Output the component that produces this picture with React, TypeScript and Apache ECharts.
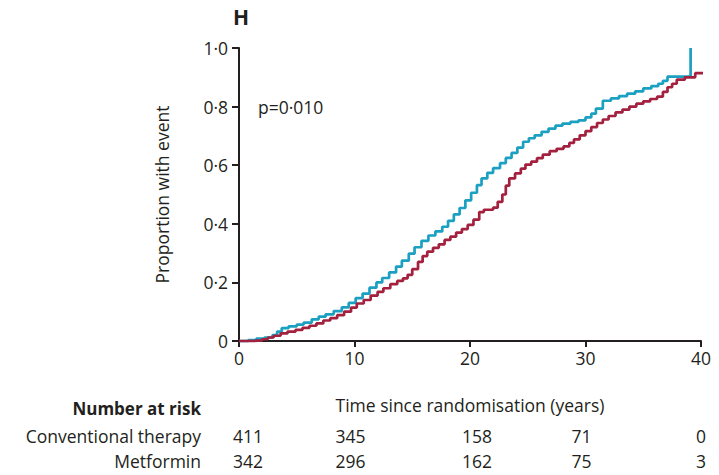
import React, { useEffect, useRef } from "react";
import * as echarts from "echarts";

// Kaplan–Meier cumulative incidence, [years, proportion with event]
const conventionalTherapy: [number, number][] = [
  [0, 0], [0.8, 0.003], [1.5, 0.008], [2.2, 0.012], [2.9, 0.02], [3.3, 0.032], [3.7, 0.044],
  [4.3, 0.05], [5.0, 0.056], [5.6, 0.063], [6.3, 0.074], [6.9, 0.083], [7.5, 0.091],
  [8.2, 0.102], [8.9, 0.115], [9.5, 0.13], [10.1, 0.146], [10.7, 0.162], [11.3, 0.182],
  [11.9, 0.2], [12.4, 0.215], [13.0, 0.234], [13.6, 0.254], [14.1, 0.274], [14.7, 0.298],
  [15.2, 0.32], [15.8, 0.342], [16.4, 0.36], [17.0, 0.374], [17.6, 0.39], [18.1, 0.41],
  [18.6, 0.432], [19.1, 0.454], [19.6, 0.48], [20.1, 0.506], [20.6, 0.532], [21.0, 0.555],
  [21.5, 0.574], [22.0, 0.59], [22.6, 0.607], [23.1, 0.625], [23.6, 0.642], [24.1, 0.66],
  [24.6, 0.68], [25.1, 0.692], [25.6, 0.702], [26.2, 0.714], [26.8, 0.725], [27.4, 0.735],
  [28.0, 0.742], [28.7, 0.748], [29.4, 0.753], [30.0, 0.763], [30.5, 0.776], [30.9, 0.793],
  [31.5, 0.82], [32.2, 0.828], [32.9, 0.836], [33.6, 0.844], [34.3, 0.852], [35.0, 0.862],
  [35.7, 0.87], [36.3, 0.878], [36.7, 0.888], [37.1, 0.902], [39.1, 1.0],
];

const metformin: [number, number][] = [
  [0, 0], [1.2, 0.002], [2.0, 0.006], [2.5, 0.012], [3.0, 0.018], [3.6, 0.026], [4.2, 0.032],
  [4.9, 0.038], [5.5, 0.045], [6.1, 0.052], [6.7, 0.06], [7.3, 0.07], [7.9, 0.078],
  [8.5, 0.088], [9.1, 0.1], [9.7, 0.114], [10.2, 0.128], [10.8, 0.14], [11.4, 0.155],
  [12.0, 0.168], [12.5, 0.18], [13.1, 0.194], [13.7, 0.205], [14.2, 0.214], [14.6, 0.226],
  [15.0, 0.245], [15.5, 0.27], [15.9, 0.29], [16.3, 0.305], [16.8, 0.318], [17.3, 0.33],
  [17.8, 0.345], [18.3, 0.356], [18.8, 0.37], [19.3, 0.382], [19.8, 0.396], [20.3, 0.414],
  [20.8, 0.44], [21.2, 0.448], [22.0, 0.455], [22.4, 0.475], [22.8, 0.5], [23.1, 0.53],
  [23.4, 0.555], [23.9, 0.572], [24.4, 0.588], [24.8, 0.602], [25.3, 0.612], [25.8, 0.624],
  [26.3, 0.636], [26.9, 0.648], [27.5, 0.656], [28.1, 0.664], [28.6, 0.676], [29.0, 0.688],
  [29.5, 0.702], [30.0, 0.716], [30.5, 0.73], [31.0, 0.744], [31.5, 0.756], [32.0, 0.768],
  [32.6, 0.78], [33.2, 0.79], [33.8, 0.8], [34.4, 0.81], [35.0, 0.818], [35.6, 0.826],
  [36.2, 0.834], [36.7, 0.85], [37.1, 0.866], [37.5, 0.878], [37.9, 0.892], [38.6, 0.9],
  [39.5, 0.914], [40.8, 0.914],
];

const yTicks = [0, 0.2, 0.4, 0.6, 0.8, 1.0];
const xTicks = [0, 10, 20, 30, 40];

const riskTimes = [0, 10, 20, 30, 40];
const conventionalAtRisk = [411, 345, 158, 71, 0];
const metforminAtRisk = [342, 296, 162, 75, 3];
const groupNames = ["Conventional therapy", "Metformin"];

const pValue = "p=0·010";
const panelLetter = "H";

const FONT = "'Open Sans', 'Noto Sans', sans-serif";
const FS = 17.5;
const TEXT = "#231f20";
const BLUE = "#1ba0c2";
const RED = "#a3203f";

const fmtY = (v: number) => (v === 0 ? "0" : v.toFixed(1).replace(".", "·"));

export default function App() {
  const ref = useRef<HTMLDivElement>(null);

  useEffect(() => {
    if (!ref.current) return;
    const chart = echarts.init(ref.current, null, { renderer: "svg" });

    const grid = { left: 239, right: 18, top: 48, bottom: 134 };

    chart.setOption({
      animation: false,
      backgroundColor: "#ffffff",
      textStyle: { fontFamily: FONT },
      grid: { ...grid, containLabel: false },
      xAxis: {
        type: "value",
        min: 0,
        max: 40,
        interval: 10,
        name: "Time since randomisation (years)",
        nameLocation: "middle",
        nameGap: 55,
        nameTextStyle: { fontFamily: FONT, fontSize: FS, color: TEXT },
        axisLine: { show: true, onZero: false, lineStyle: { color: TEXT, width: 2 } },
        axisTick: { show: true, length: 6, lineStyle: { color: TEXT, width: 2 } },
        axisLabel: {
          margin: 8,
          fontFamily: FONT,
          fontSize: FS,
          color: TEXT,
          customValues: xTicks,
        },
        splitLine: { show: false },
      },
      yAxis: {
        type: "value",
        min: 0,
        max: 1,
        interval: 0.2,
        name: "Proportion with event",
        nameLocation: "middle",
        nameGap: 68,
        nameTextStyle: { fontFamily: FONT, fontSize: FS, color: TEXT },
        axisLine: { show: true, onZero: false, lineStyle: { color: TEXT, width: 2 } },
        axisTick: { show: true, length: 7, lineStyle: { color: TEXT, width: 2 } },
        axisLabel: {
          margin: 11,
          fontFamily: FONT,
          fontSize: FS,
          color: TEXT,
          formatter: (v: number) => fmtY(v),
          customValues: yTicks,
        },
        splitLine: { show: false },
      },
      series: [
        {
          name: groupNames[0],
          type: "line",
          step: "end",
          data: conventionalTherapy,
          showSymbol: false,
          clip: false,
          lineStyle: { color: BLUE, width: 2.7 },
          z: 3,
        },
        {
          name: groupNames[1],
          type: "line",
          step: "end",
          data: metformin,
          showSymbol: false,
          clip: false,
          lineStyle: { color: RED, width: 2.7 },
          z: 4,
        },
      ],
    });

    // x positions of the risk-table columns, nudged to sit under each tick
    const colShift = [9, -4, 7, -4, 0];
    const colX = riskTimes.map(
      (t, i) => (chart.convertToPixel({ xAxisIndex: 0 }, t) as number) + colShift[i]
    );
    const tableLabelRight = 201;
    const rowY = [436, 461];
    const riskRows = [conventionalAtRisk, metforminAtRisk];

    const tableTexts: any[] = [
      {
        type: "text",
        x: tableLabelRight,
        y: 408,
        style: {
          text: "Number at risk",
          fontFamily: FONT,
          fontSize: FS - 0.5,
          fontWeight: "bold",
          fill: TEXT,
          align: "right",
          verticalAlign: "middle",
        },
      },
    ];
    riskRows.forEach((row, r) => {
      tableTexts.push({
        type: "text",
        x: tableLabelRight,
        y: rowY[r],
        style: {
          text: groupNames[r],
          fontFamily: FONT,
          fontSize: FS,
          fill: TEXT,
          align: "right",
          verticalAlign: "middle",
        },
      });
      row.forEach((n, i) => {
        tableTexts.push({
          type: "text",
          x: colX[i],
          y: rowY[r],
          style: {
            text: String(n),
            fontFamily: FONT,
            fontSize: FS,
            fill: TEXT,
            align: "center",
            verticalAlign: "middle",
          },
        });
      });
    });

    chart.setOption({
      graphic: [
        {
          type: "text",
          x: 241,
          y: 17,
          style: {
            text: panelLetter,
            fontFamily: FONT,
            fontSize: 21,
            fontWeight: "bold",
            fill: TEXT,
            align: "center",
            verticalAlign: "middle",
          },
        },
        {
          type: "text",
          x: 258,
          y: 107,
          style: {
            text: pValue,
            fontFamily: FONT,
            fontSize: FS,
            fill: TEXT,
            align: "left",
            verticalAlign: "middle",
          },
        },
        ...tableTexts,
      ],
    });

    return () => chart.dispose();
  }, []);

  return (
    <div
      ref={ref}
      style={{ position: "fixed", left: 0, top: 0, width: 719, height: 475, background: "#fff" }}
    />
  );
}
